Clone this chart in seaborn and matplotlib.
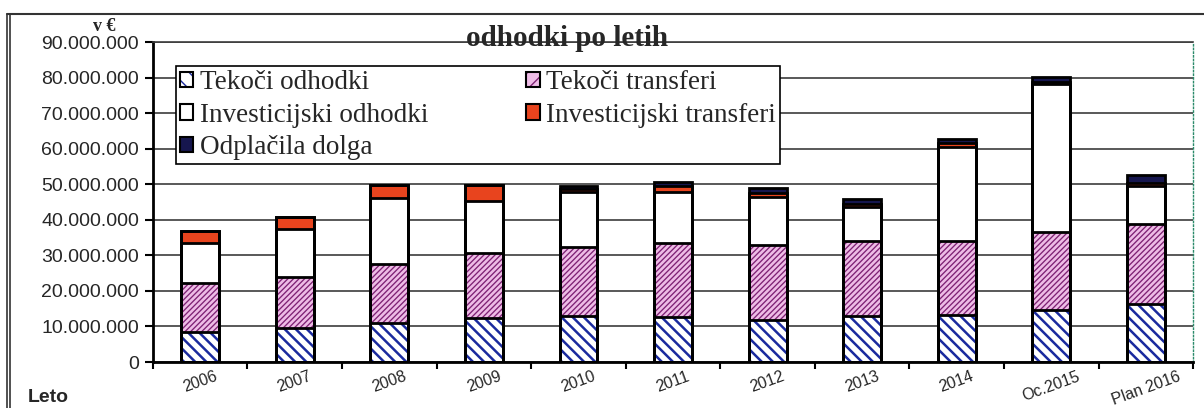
import matplotlib
matplotlib.use("Agg")
import matplotlib.pyplot as plt
import seaborn as sns
import pandas as pd
import numpy as np
from matplotlib.patches import Patch
from matplotlib.lines import Line2D
from matplotlib.ticker import FuncFormatter
from matplotlib.legend_handler import HandlerTuple

# ---- data (million EUR) ----
years = ["2006", "2007", "2008", "2009", "2010", "2011", "2012", "2013",
         "2014", "Oc.2015", "Plan 2016"]
tekoci_odhodki = [8.5, 9.5, 10.9, 12.5, 12.9, 12.6, 11.8, 12.9, 13.2, 14.6, 16.3]
tekoci_transferi = [13.6, 14.3, 16.6, 18.2, 19.4, 20.8, 21.1, 21.1, 20.9, 22.1, 22.5]
investicijski_odhodki = [11.3, 13.5, 18.5, 14.7, 15.4, 14.5, 13.4, 9.5, 26.5, 41.5, 10.7]
investicijski_transferi = [3.4, 3.4, 3.8, 4.4, 0.9, 1.6, 1.3, 0.9, 0.9, 0.6, 0.8]
odplacila_dolga = [0.0, 0.0, 0.0, 0.0, 0.9, 1.1, 1.3, 1.5, 1.2, 1.4, 2.3]
series_names = ["Tekoči odhodki", "Tekoči transferi", "Investicijski odhodki",
                "Investicijski transferi", "Odplačila dolga"]
yticks = [0, 10e6, 20e6, 30e6, 40e6, 50e6, 60e6, 70e6, 80e6, 90e6]

df = pd.DataFrame({"Leto": years,
                   series_names[0]: np.array(tekoci_odhodki) * 1e6,
                   series_names[1]: np.array(tekoci_transferi) * 1e6,
                   series_names[2]: np.array(investicijski_odhodki) * 1e6,
                   series_names[3]: np.array(investicijski_transferi) * 1e6,
                   series_names[4]: np.array(odplacila_dolga) * 1e6})
cum = df[series_names].cumsum(axis=1)
cum["Leto"] = df["Leto"]

styles = {
    "Tekoči odhodki": dict(face="white", hatch="\\\\\\", hc="#1a2a9e", hlw=1.8),
    "Tekoči transferi": dict(face="#eebce6", hatch="//////", hc="#7e2274", hlw=0.95),
    "Investicijski odhodki": dict(face="white", hatch=None, hc="white", hlw=1.0),
    "Investicijski transferi": dict(face="#e8441e", hatch=None, hc="#e8441e", hlw=1.0),
    "Odplačila dolga": dict(face="#16164e", hatch=None, hc="#16164e", hlw=1.0),
}


def apply_hatch_lw(patch, lw):
    # per-patch hatch line width (works across matplotlib versions)
    if hasattr(patch, "set_hatch_linewidth"):
        try:
            patch.set_hatch_linewidth(lw)
        except Exception:
            pass
    patch._hatch_linewidth = lw
    orig = patch.draw

    def draw(renderer, _orig=orig, _lw=lw):
        with plt.rc_context({"hatch.linewidth": _lw}):
            _orig(renderer)
    patch.draw = draw


sns.set_theme(style="white")
plt.rcParams["font.family"] = ["Liberation Sans", "DejaVu Sans"]

fig = plt.figure(figsize=(12.04, 4.08), dpi=100)
ax = fig.add_axes([0.127, 0.1127, 0.864, 0.7843])
ax.set_axisbelow(True)

W = 0.40
for name in reversed(series_names):
    st = styles[name]
    n0 = len(ax.patches)
    with plt.rc_context({"hatch.linewidth": st["hlw"]}):
        sns.barplot(data=cum, x="Leto", y=name, order=years, ax=ax,
                    color=st["face"], saturation=1, width=W,
                    edgecolor=st["hc"], linewidth=0, zorder=2)
    for p in ax.patches[n0:]:
        p.set_facecolor(st["face"])
        p.set_edgecolor(st["hc"])
        p.set_linewidth(0)
        if st["hatch"]:
            p.set_hatch(st["hatch"])
            apply_hatch_lw(p, st["hlw"])
for name in series_names:
    sns.barplot(data=cum, x="Leto", y=name, order=years, ax=ax,
                fill=False, width=W, edgecolor="black", linewidth=2.0,
                zorder=3)

ax.set_xlim(-0.5, len(years) - 0.5)
ax.set_ylim(0, 90e6)
ax.set_yticks(yticks)
ax.yaxis.set_major_formatter(FuncFormatter(lambda v, p: f"{v:,.0f}".replace(",", ".")))
ax.yaxis.grid(True, color="#3c3c3c", linewidth=1.2)
ax.xaxis.grid(False)
ax.set_xlabel("")
ax.set_ylabel("")

ax.set_xticks(np.arange(len(years)))
ax.set_xticklabels(years, rotation=20, fontsize=11.5)
ax.set_xticks(np.arange(-0.5, len(years), 1), minor=True)
ax.tick_params(axis="x", which="major", length=0, pad=5)
ax.tick_params(axis="x", which="minor", length=5, width=1.5, color="black",
               direction="out", bottom=True)
ax.tick_params(axis="y", which="major", length=6, width=1.5, color="black",
               direction="out", left=True, labelsize=14, pad=4)

for s in ["left", "bottom"]:
    ax.spines[s].set_color("black")
    ax.spines[s].set_linewidth(2.0)
ax.spines["top"].set_color("#3c3c3c")
ax.spines["top"].set_linewidth(1.2)
ax.spines["right"].set_color("#2a8a6a")
ax.spines["right"].set_linewidth(1.0)
ax.spines["right"].set_linestyle(":")

# legend
handles = {}
for name in series_names:
    st = styles[name]
    fillp = Patch(facecolor=st["face"], edgecolor=st["hc"], linewidth=0,
                  hatch=(st["hatch"][:2] if st["hatch"] else None))
    edgep = Patch(facecolor="none", edgecolor="black", linewidth=1.5)
    handles[name] = (fillp, edgep)
order = ["Tekoči odhodki", "Investicijski odhodki", "Odplačila dolga",
         "Tekoči transferi", "Investicijski transferi"]
leg = ax.legend([handles[n] for n in order], order, ncol=2,
                loc="upper left", bbox_to_anchor=(0.022, 0.925),
                frameon=True, fancybox=False, framealpha=1, edgecolor="black",
                handler_map={tuple: HandlerTuple(ndivide=1, pad=0)},
                prop={"family": "Liberation Serif", "size": 19.5},
                handlelength=0.5, handleheight=0.5, handletextpad=0.25,
                columnspacing=3.6, labelspacing=0.28, borderpad=0.15,
                borderaxespad=0)
leg.get_frame().set_linewidth(1.2)
leg.set_zorder(5)

# texts
fig.text(0.471, 0.906, "odhodki po letih", ha="center", va="center",
         family="Liberation Serif", fontweight="bold", fontsize=21)
fig.text(0.087, 0.934, "v €", ha="center", va="center",
         family="Liberation Serif", fontweight="bold", fontsize=13)
fig.text(0.023, 0.025, "Leto", ha="left", va="center",
         family="Liberation Sans", fontweight="bold", fontsize=14)

# outer frame
fig.add_artist(Line2D([0.006, 1.0], [0.966, 0.966], transform=fig.transFigure,
                      color="#333333", linewidth=1.5))
fig.add_artist(Line2D([0.006, 0.006], [0.0, 0.966], transform=fig.transFigure,
                      color="#333333", linewidth=1.2))
fig.add_artist(Line2D([0.0085, 0.0085], [0.0, 0.966], transform=fig.transFigure,
                      color="#333333", linewidth=1.2))

fig.savefig("out.png", dpi=100)
